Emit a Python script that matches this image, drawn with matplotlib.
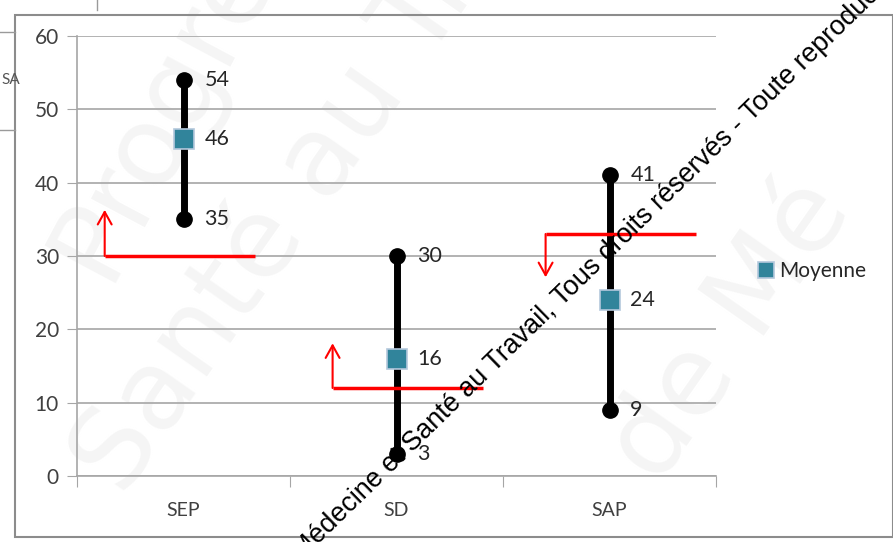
import numpy as np
import matplotlib.pyplot as plt
from matplotlib.patches import Rectangle

categories = ['SEP', 'SD', 'SAP']
maxi = [54, 30, 41]
moyenne = [46, 16, 24]
mini = [35, 3, 9]

# seuils (valeur, direction de la fleche)
seuils = [30, 12, 33]
fleches = [36.3, 18.1, 27.1]

plt.rcParams['font.family'] = ['Lato', 'DejaVu Sans']

fig = plt.figure(figsize=(8.93, 5.42), dpi=100)

# cadre du graphique et restes du document derriere
fig.patches.append(Rectangle((15 / 893, 5 / 542), 878 / 893, 522 / 542, transform=fig.transFigure,
                             fill=False, edgecolor='#8c8c8c', lw=1.5, zorder=0))
fig.lines.append(plt.Line2D([0, 15 / 893], [510 / 542, 510 / 542], transform=fig.transFigure, color='#9a9a9a', lw=1))
fig.lines.append(plt.Line2D([0, 15 / 893], [412 / 542, 412 / 542], transform=fig.transFigure, color='#9a9a9a', lw=1))
fig.lines.append(plt.Line2D([97 / 893, 97 / 893], [532 / 542, 1], transform=fig.transFigure, color='#9a9a9a', lw=1))
fig.text(1 / 893, 462 / 542, 'SA', fontsize=11, color='#555555', va='center')

# grand filigrane pale
for txt, xx, yy, rot, fs in [('Progrès', 0.03, 0.50, 62, 80), ('Santé au Tr', 0.06, 0.10, 55, 80),
                             ('de Mé', 0.66, 0.12, 55, 80)]:
    fig.text(xx, yy, txt, fontsize=fs, color='#f5f5f5', rotation=rot, zorder=-5,
             family=['DejaVu Sans'])

ax = fig.add_axes([77 / 893, 66 / 542, 639 / 893, 440 / 542])
ax.set_zorder(1)
ax.patch.set_alpha(0)
x = np.arange(len(categories))

ax.set_xlim(-0.5, 2.5)
ax.set_ylim(0, 60)
ax.set_yticks(range(0, 61, 10))
ax.yaxis.grid(True, color='#a6a6a6', lw=1.2)
ax.set_axisbelow(True)
for s in ['top', 'right']:
    ax.spines[s].set_visible(False)
ax.spines['left'].set_color('#a6a6a6')
ax.spines['bottom'].set_color('#a6a6a6')
ax.spines['left'].set_linewidth(1.2)
ax.spines['bottom'].set_linewidth(1.2)

ax.set_xticks([-0.5, 0.5, 1.5, 2.5])
ax.set_xticklabels([])
ax.set_xticks(x, minor=True)
ax.set_xticklabels(categories, minor=True)
ax.tick_params(axis='x', which='major', length=8, color='#a6a6a6')
ax.tick_params(axis='x', which='minor', length=0, pad=19, labelsize=14, labelcolor='#404040')
ax.tick_params(axis='y', length=7, color='#a6a6a6', labelsize=15, labelcolor='#404040', pad=6)

# lignes haut-bas
ax.vlines(x, mini, maxi, color='black', lw=5, zorder=3)
ax.plot(x, maxi, 'o', color='black', ms=11, zorder=4)
ax.plot(x, mini, 'o', color='black', ms=11, zorder=4)
ax.plot(x, moyenne, 's', color='#31849b', mec='#b4c8dc', mew=1.2, ms=15, zorder=5, label='Moyenne')

for i in range(len(categories)):
    for v in [maxi[i], moyenne[i], mini[i]]:
        ax.annotate(str(v), (x[i], v), xytext=(15, 0), textcoords='offset points',
                    va='center', ha='left', fontsize=15.5, color='#262626')

# seuils en rouge
for i in range(len(categories)):
    gauche = x[i] - 0.37 if i == 0 else x[i] - 0.3
    droite = gauche + 0.705
    ax.plot([gauche, droite], [seuils[i], seuils[i]], color='#ff0000', lw=2.5, zorder=6, solid_capstyle='butt')
    ax.annotate('', xy=(gauche, fleches[i]), xytext=(gauche, seuils[i]),
                arrowprops=dict(arrowstyle='->,head_length=0.9,head_width=0.5', color='#ff0000', lw=1.5,
                                shrinkA=0, shrinkB=0), zorder=6)

fig.legend(loc='center left', bbox_to_anchor=(740 / 893, 271 / 542), frameon=False, fontsize=15,
           handlelength=0.7, handletextpad=0.3, labelcolor='#262626', markerscale=0.75)

# filigrane noir en diagonale
fig.text(0.338, -0.034, 'Médecine et Santé au Travail, Tous droits réservés - Toute reproduction interdite',
         rotation=44.3, fontsize=19.4, color='black', family=['Liberation Sans', 'DejaVu Sans'],
         ha='left', va='baseline', rotation_mode='anchor', zorder=10)

fig.savefig('out.png', dpi=100)
